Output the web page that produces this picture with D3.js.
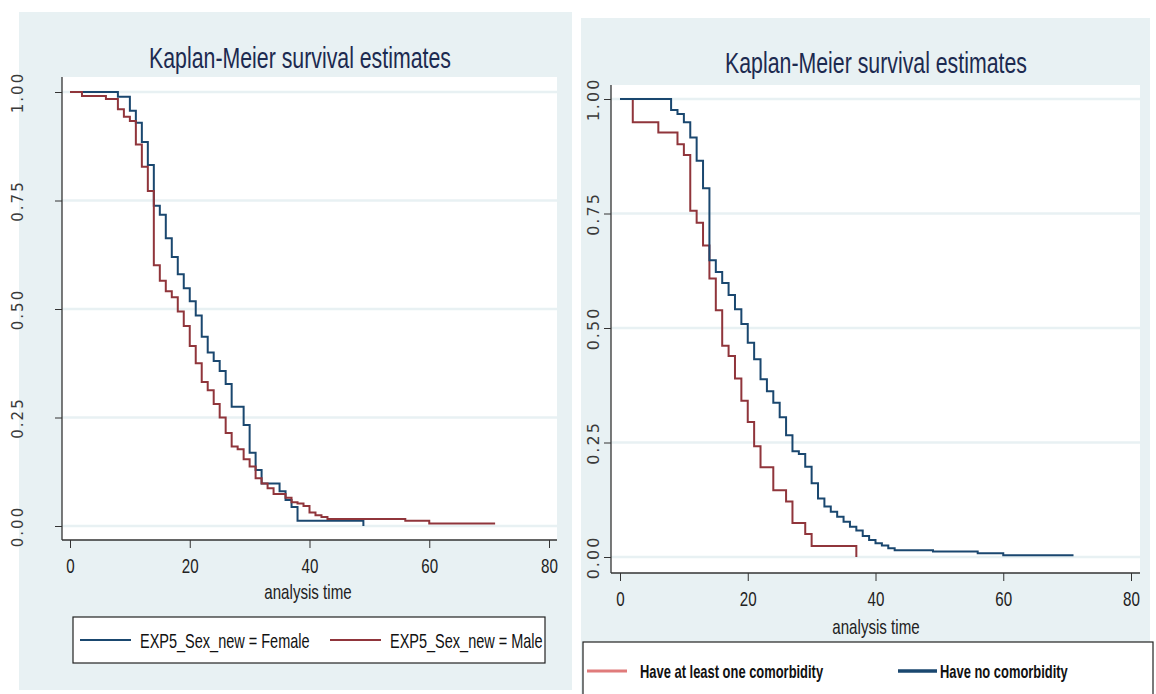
<!DOCTYPE html>
<html>
<head>
<meta charset="utf-8">
<script src="https://cdn.jsdelivr.net/npm/d3@7"></script>
<style>
body{margin:0;background:#fff;}
text{font-family:"Liberation Sans Narrow","Arial Narrow","Liberation Sans",sans-serif;}
</style>
</head>
<body>
<div id="graph"></div>
<script>
// tick labels
var xTicks=[0,20,40,60,80];
var yTicks=[0,0.25,0.5,0.75,1];

// left chart: by sex
var femaleTime=[0,8,10,11,12,13,14,15,16,17,18,19,20,21,22,23,24,25,26,27,29,30,31,32,35,36,37,38,49];
var femaleSurv=[1,0.989,0.957,0.929,0.885,0.832,0.738,0.717,0.663,0.62,0.58,0.548,0.518,0.485,0.436,0.40,0.38,0.357,0.327,0.275,0.233,0.169,0.129,0.098,0.08,0.06,0.044,0.012,0];
var maleTime=[0,2,6,8,9,10,11,12,13,14,15,16,17,18,19,20,21,22,23,24,25,26,27,28,29,30,31,32,33,34,36,37,38,39,40,41,42,43,56,60,71];
var maleSurv=[1,0.991,0.984,0.96,0.943,0.933,0.879,0.828,0.772,0.601,0.565,0.541,0.527,0.494,0.461,0.415,0.375,0.332,0.313,0.281,0.25,0.214,0.183,0.177,0.154,0.137,0.11,0.098,0.087,0.074,0.065,0.055,0.052,0.046,0.031,0.025,0.021,0.016,0.012,0.006,0.006];

// right chart: by comorbidity
var comorbTime=[0,2,6,9,10,11,12,13,14,15,16,17,18,19,20,21,22,24,26,27,29,30,37];
var comorbSurv=[1,0.949,0.927,0.901,0.878,0.756,0.73,0.68,0.608,0.539,0.461,0.439,0.39,0.341,0.295,0.242,0.196,0.146,0.121,0.074,0.05,0.024,0];
var noComorbTime=[0,8,9,10,11,12,13,14,15,16,17,18,19,20,21,22,23,24,25,26,27,28,29,30,31,32,33,34,35,36,37,38,39,40,41,42,43,49,56,60,71];
var noComorbSurv=[1,0.976,0.967,0.949,0.916,0.865,0.805,0.648,0.622,0.598,0.572,0.541,0.509,0.468,0.432,0.388,0.362,0.337,0.305,0.266,0.231,0.225,0.197,0.161,0.128,0.11,0.099,0.088,0.077,0.066,0.058,0.046,0.037,0.03,0.025,0.019,0.015,0.012,0.008,0.004,0.004];

var leftLabels=["EXP5_Sex_new = Female","EXP5_Sex_new = Male"];
var rightLabels=["Have at least one comorbidity","Have no comorbidity"];

var bgColor="#e8f1f3";
var blue="#1a476f";
var red="#90353b";

var svg=d3.select("#graph").append("svg").attr("width",1156).attr("height",694);

var zip=function(t,s){return t.map(function(d,i){return [d,s[i]];});};

// no narrow font installed: squeeze the glyphs instead
var narrow=function(sel,f){
	sel.each(function(){
		var w=this.getComputedTextLength();
		d3.select(this).attr("textLength",w*f).attr("lengthAdjust","spacingAndGlyphs");
	});
};

var drawPanel=function(p){
	var g=svg.append("g");
	g.append("rect").attr("x",p.bg[0]).attr("y",p.bg[1]).attr("width",p.bg[2]).attr("height",p.bg[3]).attr("fill",bgColor);
	g.append("rect").attr("x",p.plot[0]).attr("y",p.plot[1]).attr("width",p.plot[2]-p.plot[0]).attr("height",p.plot[3]-p.plot[1]).attr("fill","#fff");

	var x=d3.scaleLinear().domain([0,80]).range(p.xr);
	var y=d3.scaleLinear().domain([0,1]).range(p.yr);

	//格線
	g.selectAll(".grid").data(yTicks).enter().append("line")
		.attr("x1",p.plot[0]).attr("x2",p.plot[2])
		.attr("y1",function(d){return y(d);}).attr("y2",function(d){return y(d);})
		.attr("stroke",bgColor).attr("stroke-width",2.5);

	//axes
	var ay=g.append("g").attr("transform","translate("+p.plot[0]+",0)")
		.call(d3.axisLeft(y).tickValues(yTicks).tickSize(7).tickFormat(d3.format(".2f")));
	ay.select(".domain").remove();
	ay.selectAll("line").attr("stroke","#333");
	ay.selectAll("text")
		.attr("x",0).attr("y",0).attr("dy",0)
		.attr("transform","translate("+(p.ylabX-p.plot[0])+",0) rotate(-90)")
		.attr("text-anchor","middle").attr("dominant-baseline","central")
		.style("font-family","DejaVu Sans").style("font-size",p.ylabSize+"px").attr("fill","#3a3a3a")
		.attr("letter-spacing",2);

	var ax=g.append("g").attr("transform","translate(0,"+p.plot[3]+")")
		.call(d3.axisBottom(x).tickValues(xTicks).tickSize(8).tickPadding(10));
	ax.select(".domain").remove();
	ax.selectAll("line").attr("stroke","#333");
	ax.selectAll("text").style("font-size",p.xlabSize+"px").attr("fill","#222").call(narrow,0.72);

	g.append("line").attr("x1",p.plot[0]).attr("x2",p.plot[0]).attr("y1",p.plot[1]).attr("y2",p.plot[3]).attr("stroke","#333").attr("stroke-width",1.3);
	g.append("line").attr("x1",p.plot[0]).attr("x2",p.plot[2]).attr("y1",p.plot[3]).attr("y2",p.plot[3]).attr("stroke","#333").attr("stroke-width",1.3);

	//curves
	var line=d3.line().x(function(d){return x(d[0]);}).y(function(d){return y(d[1]);}).curve(d3.curveStepAfter);
	p.series.forEach(function(s){
		g.append("path").attr("d",line(s.data)).attr("fill","none").attr("stroke",s.color).attr("stroke-width",2);
	});

	g.append("text").text("Kaplan-Meier survival estimates")
		.attr("x",p.titleX).attr("y",p.titleY).attr("text-anchor","middle")
		.style("font-size",p.titleSize+"px").attr("fill","#1c2a50").call(narrow,0.71);
	g.append("text").text("analysis time")
		.attr("x",p.xtitleX).attr("y",p.xtitleY).attr("text-anchor","middle")
		.style("font-size",p.xlabSize+"px").attr("fill","#222").call(narrow,0.72);

	//legend
	var L=p.legend;
	g.append("rect").attr("x",L.box[0]).attr("y",L.box[1]).attr("width",L.box[2]).attr("height",L.box[3])
		.attr("fill","#fff").attr("stroke","#222").attr("stroke-width",1.2);
	L.items.forEach(function(it){
		g.append("line").attr("x1",it.x1).attr("x2",it.x2).attr("y1",L.y).attr("y2",L.y)
			.attr("stroke",it.color).attr("stroke-width",it.w);
		g.append("text").text(it.label).attr("x",it.tx).attr("y",L.y).attr("dominant-baseline","central")
			.style("font-size",L.size+"px").style("font-weight",L.weight).attr("fill","#111").call(narrow,L.f);
	});
};

drawPanel({
	bg:[19,12,553,678],
	plot:[62,77,557,540],
	xr:[70,549], yr:[526,92],
	ylabX:18, ylabSize:15, xlabSize:21,
	titleX:300, titleY:68, titleSize:30,
	xtitleX:308, xtitleY:599,
	series:[{data:zip(femaleTime,femaleSurv),color:blue},{data:zip(maleTime,maleSurv),color:red}],
	legend:{box:[73,617,472,46],y:640,size:21,weight:"normal",f:0.69,items:[
		{x1:80,x2:131,color:blue,w:2,tx:140,label:leftLabels[0]},
		{x1:330,x2:381,color:red,w:2,tx:390,label:leftLabels[1]}
	]}
});

drawPanel({
	bg:[581,18,569,676],
	plot:[611,85,1140,573],
	xr:[620,1131], yr:[557,99],
	ylabX:593, ylabSize:16, xlabSize:21,
	titleX:876, titleY:73, titleSize:30,
	xtitleX:876, xtitleY:634,
	series:[{data:zip(comorbTime,comorbSurv),color:red},{data:zip(noComorbTime,noComorbSurv),color:blue}],
	legend:{box:[583,642,570,60],y:671,size:19,weight:"bold",f:0.68,items:[
		{x1:587,x2:627,color:"#e07b7b",w:3,tx:640,label:rightLabels[0]},
		{x1:898,x2:937,color:blue,w:3.5,tx:940,label:rightLabels[1]}
	]}
});
</script>
</body>
</html>
